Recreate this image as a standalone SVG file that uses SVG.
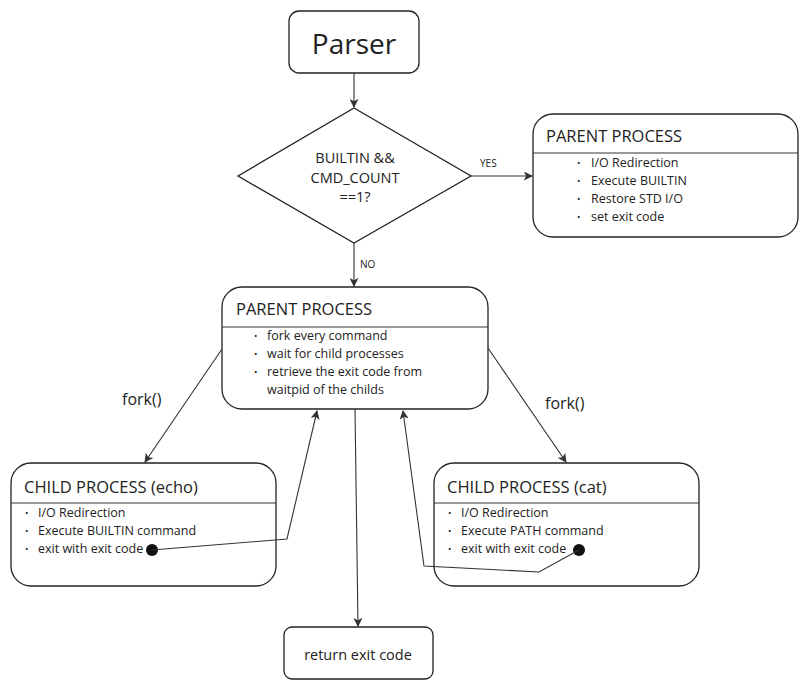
<svg xmlns="http://www.w3.org/2000/svg" width="805" height="696" viewBox="0 0 805 696">
<style>
text{font-family:"Open Sans","Liberation Sans",sans-serif;fill:#222}
.box{fill:#fff;stroke:#222;stroke-width:1.3}
.div{stroke:#333;stroke-width:1}
.ttl{font-size:16.5px}
.it{font-size:12.5px}
.bul{font-size:9px}
.cn{fill:none;stroke:#333;stroke-width:1.1}
</style>
<defs>
<marker id="ah" viewBox="0 0 10 10" refX="9" refY="5" markerWidth="9" markerHeight="9" markerUnits="userSpaceOnUse" orient="auto">
<path d="M0,0 L10,5 L0,10 L2.5,5 z" fill="#333"/>
</marker>
</defs>
<g id="parser">
<rect class="box" x="289" y="11" width="130" height="62" rx="10"/>
<text x="354" y="54" font-size="28" text-anchor="middle">Parser</text>
</g>
<g id="decision">
<polygon class="box" points="354,108 471,176 354,243 238,176"/>
<text x="355" y="163" font-size="14.5" text-anchor="middle">BUILTIN &amp;&amp;</text>
<text x="355" y="183" font-size="14.5" text-anchor="middle">CMD_COUNT</text>
<text x="355" y="202" font-size="14.5" text-anchor="middle">==1?</text>
</g>
<g id="parent-builtin">
<rect class="box" x="533" y="114" width="265" height="123" rx="20"/>
<line class="div" x1="533" y1="153" x2="798" y2="153"/>
<text class="ttl" x="546" y="142">PARENT PROCESS</text>
<text class="bul" x="577" y="166">•</text><text class="it" x="591" y="167">I/O Redirection</text>
<text class="bul" x="577" y="184">•</text><text class="it" x="591" y="185">Execute BUILTIN</text>
<text class="bul" x="577" y="202">•</text><text class="it" x="591" y="203">Restore STD I/O</text>
<text class="bul" x="577" y="220">•</text><text class="it" x="591" y="221">set exit code</text>
</g>
<g id="parent-fork">
<rect class="box" x="222" y="287" width="266" height="122" rx="20"/>
<line class="div" x1="222" y1="327" x2="488" y2="327"/>
<text class="ttl" x="236" y="315">PARENT PROCESS</text>
<text class="bul" x="254" y="339">•</text><text class="it" x="267" y="340">fork every command</text>
<text class="bul" x="254" y="357">•</text><text class="it" x="267" y="358">wait for child processes</text>
<text class="bul" x="254" y="375">•</text><text class="it" x="267" y="376">retrieve the exit code from</text>
<text class="it" x="267" y="394">waitpid of the childs</text>
</g>
<g id="child-echo">
<rect class="box" x="11" y="463" width="265" height="123" rx="20"/>
<line class="div" x1="11" y1="503" x2="276" y2="503"/>
<text class="ttl" x="24" y="493">CHILD PROCESS (echo)</text>
<text class="bul" x="25" y="516">•</text><text class="it" x="38" y="517">I/O Redirection</text>
<text class="bul" x="25" y="534">•</text><text class="it" x="38" y="535">Execute BUILTIN command</text>
<text class="bul" x="25" y="552">•</text><text class="it" x="38" y="553">exit with exit code</text>
<circle cx="152" cy="550" r="6" fill="#111"/>
</g>
<g id="child-cat">
<rect class="box" x="434" y="463" width="265" height="123" rx="20"/>
<line class="div" x1="434" y1="503" x2="699" y2="503"/>
<text class="ttl" x="447" y="493">CHILD PROCESS (cat)</text>
<text class="bul" x="448" y="516">•</text><text class="it" x="461" y="517">I/O Redirection</text>
<text class="bul" x="448" y="534">•</text><text class="it" x="461" y="535">Execute PATH command</text>
<text class="bul" x="448" y="552">•</text><text class="it" x="461" y="553">exit with exit code</text>
<circle cx="579" cy="550" r="6" fill="#111"/>
</g>
<g id="return">
<rect class="box" x="284" y="627" width="149" height="52" rx="8"/>
<text x="358" y="660" font-size="14.5" text-anchor="middle">return exit code</text>
</g>
<g id="connectors">
<line class="cn" x1="354" y1="73" x2="354" y2="107" marker-end="url(#ah)"/>
<line class="cn" x1="471" y1="176" x2="532" y2="176" marker-end="url(#ah)"/>
<text x="480" y="167" font-size="10">YES</text>
<line class="cn" x1="354" y1="243" x2="354" y2="286" marker-end="url(#ah)"/>
<text x="360" y="268" font-size="10">NO</text>
<line class="cn" x1="222" y1="349" x2="145" y2="462" marker-end="url(#ah)"/>
<text x="122" y="405" font-size="16">fork()</text>
<line class="cn" x1="488" y1="348" x2="566" y2="462" marker-end="url(#ah)"/>
<text x="545" y="409" font-size="16">fork()</text>
<polyline class="cn" points="152,550 287,539 317,411" marker-end="url(#ah)"/>
<polyline class="cn" points="579,550 539,572 424,566 403,411" marker-end="url(#ah)"/>
<line class="cn" x1="355" y1="409" x2="358" y2="626" marker-end="url(#ah)"/>
</g>
</svg>
